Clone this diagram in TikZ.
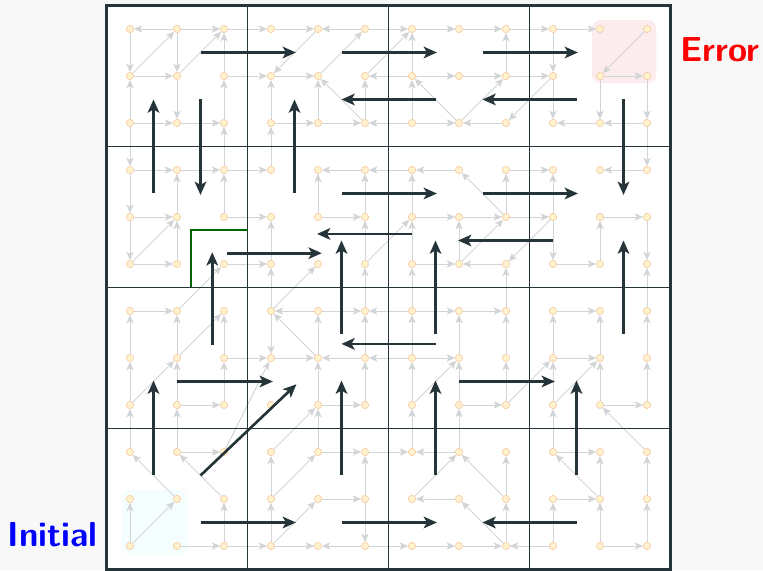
\documentclass[tikz,border=0pt]{standalone}
\usepackage{fontspec}
\usetikzlibrary{arrows.meta}
\definecolor{slate}{RGB}{37,52,56}
\definecolor{edgegray}{RGB}{210,212,214}
\definecolor{stfill}{RGB}{255,242,204}
\definecolor{stdraw}{RGB}{244,204,164}
\definecolor{errfill}{RGB}{253,236,238}
\definecolor{initfill}{RGB}{244,254,254}
\definecolor{bggray}{RGB}{248,248,248}
\definecolor{wallgreen}{RGB}{0,100,0}

\begin{document}
\begin{tikzpicture}[
  st/.style={circle, draw=stdraw, fill=stfill, line width=0.4pt, inner sep=0pt, minimum size=4.4pt},
  tr/.style={draw=edgegray, line width=0.55pt, -{Stealth[length=5pt, width=4.4pt, inset=1.2pt]}},
  cellline/.style={draw=slate, line width=1.2pt},
  move/.style={draw=slate, line width=1.6pt, -{Stealth[length=8pt, width=7pt, inset=2pt]}},
  lbl/.style={font=\sffamily\bfseries\fontsize{21}{25}\selectfont, inner sep=0pt},
]
  % canvas
  \fill[bggray] (-2.766,-0.511) rectangle (13.468,11.617);
  \fill[white] (-0.5,-0.5) rectangle (11.5,11.5);
  % initial and error sets
  \fill[initfill, rounded corners=5pt] (-0.18,-0.19) rectangle (1.23,1.19);
  \fill[errfill, rounded corners=5pt] (9.83,9.85) rectangle (11.2,11.19);

  % states
  \foreach \c in {0,...,11}
    \foreach \r in {0,...,11}
      \node[st] (n\c-\r) at (\c,11-\r) {};
  % cell centres
  \foreach \i in {0,...,3}
    \foreach \j in {0,...,3}
      \coordinate (q\i\j) at (3*\i+1,10-3*\j);

  % transitions
  \foreach \a/\b in {1-0/0-0, 1-0/2-0, 0-0/0-1, 0-1/1-0, 1-0/1-1, 1-1/2-0, 2-1/2-0,
      0-1/1-1, 0-2/0-1, 1-1/1-2, 2-2/2-1, 0-2/1-2, 1-2/2-2, 2-0/3-0, 2-1/3-1,
      0-2/0-3, 2-3/2-2, 3-3/3-2,
      3-0/4-0, 5-0/4-0, 4-0/3-1, 4-1/5-0, 3-1/4-1, 3-2/3-1, 4-2/4-1, 5-2/4-1,
      5-2/5-1, 3-2/4-2, 4-2/5-2, 5-1/6-0, 6-1/5-1, 6-2/5-2, 5-0/6-0,
      6-0/7-0, 7-0/8-0, 6-1/6-0, 6-1/7-1, 7-1/8-1, 8-1/8-0, 7-2/6-1, 7-2/8-1,
      6-2/6-1, 6-2/7-2, 8-2/7-2, 8-0/9-0, 8-1/9-1, 9-1/8-2,
      9-0/10-0, 9-0/9-1, 11-0/10-1, 10-1/11-1, 9-1/9-2, 10-1/10-2, 11-1/11-2,
      10-2/9-2, 11-2/10-2, 11-2/11-3}
    \draw[tr] (n\a) -- (n\b);
  \foreach \a/\b in {0-3/1-3, 1-3/2-3, 0-3/0-4, 0-4/0-5, 1-4/1-3, 2-4/2-3, 0-4/1-4,
      0-5/1-4, 1-5/1-4, 0-5/1-5, 2-3/3-3, 2-4/3-4, 2-5/3-5, 1-6/2-5,
      5-3/4-3, 4-4/4-3, 4-4/5-4, 5-4/5-3, 3-5/3-4, 5-5/5-4, 6-3/5-3, 3-6/3-5,
      3-6/4-5, 5-5/6-4, 5-6/5-5,
      7-3/6-3, 8-4/7-3, 6-4/6-3, 8-4/8-3, 6-4/7-4, 7-4/8-4, 7-5/7-4, 7-5/8-4,
      6-5/7-5, 8-5/7-5, 6-5/6-4, 8-3/9-3, 8-4/9-4, 9-4/8-5, 6-6/6-5, 8-6/8-5,
      11-3/10-3, 9-4/9-3, 9-4/9-5, 9-5/10-5, 10-5/10-4, 10-4/11-4, 11-4/11-5,
      11-6/11-5}
    \draw[tr] (n\a) -- (n\b);
  \foreach \a/\b in {0-7/0-6, 0-6/1-6, 1-7/1-6, 2-7/2-6, 1-7/2-6, 0-8/0-7, 0-8/1-7,
      1-8/1-7, 2-8/2-7, 1-8/2-8, 2-7/3-7, 0-9/0-8, 1-9/1-8, 2-9/3-7,
      4-6/3-6, 3-6/3-7, 4-7/3-6, 4-7/4-6, 4-6/5-6, 3-7/4-7, 5-7/4-7, 5-7/5-6,
      4-8/4-7, 5-8/5-7, 4-8/5-8, 6-6/5-6, 6-7/5-7, 3-9/4-8, 4-9/4-8,
      6-6/7-6, 7-6/8-6, 6-7/6-6, 7-7/7-6, 8-7/8-6, 6-7/7-7, 6-8/7-7, 6-8/6-7,
      7-8/7-7, 7-8/8-8, 8-8/8-7, 8-8/9-7, 6-9/6-8, 7-9/7-8,
      9-6/10-6, 9-7/9-6, 10-7/10-6, 11-7/11-6, 9-7/10-7, 9-8/10-7, 9-8/9-7,
      10-8/10-7, 10-8/11-8, 11-8/11-7, 11-9/10-8, 9-9/9-8}
    \draw[tr] (n\a) -- (n\b);
  \foreach \a/\b in {1-10/0-9, 1-9/2-9, 2-10/1-9, 0-11/0-10, 0-11/1-10, 1-11/2-11,
      2-11/2-10, 2-11/3-11,
      3-10/3-9, 3-10/4-9, 3-11/3-10, 3-11/4-10, 4-9/5-9, 4-10/5-10, 5-10/5-9,
      5-10/5-11, 3-11/4-11, 5-11/4-11, 5-9/6-9, 5-11/6-11,
      7-9/6-9, 6-10/7-9, 8-10/7-9, 8-10/8-9, 7-10/6-10, 8-11/7-10, 8-11/8-10,
      6-11/7-11, 7-11/8-11, 9-11/8-11,
      9-9/10-9, 10-10/9-9, 10-10/10-9, 9-10/10-10, 9-11/9-10, 10-11/10-10,
      10-11/11-11, 11-11/11-10, 11-10/11-9}
    \draw[tr] (n\a) -- (n\b);

  % partition
  \draw[cellline, shift={(-0.5,-0.5)}] (0,0) grid[step=3] (12,12);
  \draw[slate, line width=1.6pt] (-0.5,-0.5) rectangle (11.5,11.5);
  % wall
  \draw[wallgreen, line width=1.3pt] (1.3,5.5) |- (2.5,6.72);

  % abstract moves
  \draw[move] ([shift={(0.5,0.5)}]q00) -- ([shift={(-0.47,0.5)}]q10);
  \draw[move] ([shift={(0.5,0.5)}]q10) -- ([shift={(-0.47,0.5)}]q20);
  \draw[move] ([shift={(0.5,0.5)}]q20) -- ([shift={(-0.47,0.5)}]q30);
  \draw[move] ([shift={(-0.5,-0.5)}]q20) -- ([shift={(0.5,-0.5)}]q10);
  \draw[move] ([shift={(-0.5,-0.5)}]q30) -- ([shift={(0.5,-0.5)}]q20);
  \draw[move] ([shift={(-0.5,0.5)}]q01) -- ([shift={(-0.5,-0.5)}]q00);
  \draw[move] ([shift={(0.5,-0.5)}]q00) -- ([shift={(0.5,0.47)}]q01);
  \draw[move] ([shift={(-0.5,0.5)}]q11) -- ([shift={(-0.5,-0.5)}]q10);
  \draw[move] ([shift={(0.5,-0.5)}]q30) -- ([shift={(0.5,0.47)}]q31);
  \draw[move] ([shift={(0.5,0.5)}]q11) -- ([shift={(-0.47,0.5)}]q21);
  \draw[move] ([shift={(0.5,0.5)}]q21) -- ([shift={(-0.47,0.5)}]q31);
  \draw[move] ([shift={(-1,-0.36)}]q21) -- ([shift={(-0.02,-0.36)}]q11);
  \draw[move] ([shift={(-1,-0.5)}]q31) -- ([shift={(-0.02,-0.5)}]q21);
  \draw[move] ([shift={(1.06,-0.77)}]q01) -- ([shift={(0.08,-0.77)}]q11);
  \draw[move] ([shift={(0.75,0.28)}]q02) -- ([shift={(0.75,-0.75)}]q01);
  \draw[move] ([shift={(0.5,0.5)}]q12) -- ([shift={(0.5,-0.5)}]q11);
  \draw[move] ([shift={(-0.5,0.5)}]q22) -- ([shift={(-0.5,-0.5)}]q21);
  \draw[move] ([shift={(0.5,0.5)}]q32) -- ([shift={(0.5,-0.5)}]q31);
  \draw[move] ([shift={(-0.5,0.3)}]q22) -- ([shift={(0.5,0.3)}]q12);
  \draw[move] ([shift={(0,-0.5)}]q02) -- ([shift={(-0.96,-0.5)}]q12);
  \draw[move] ([shift={(0,-0.5)}]q22) -- ([shift={(-0.96,-0.5)}]q32);
  \draw[move] ([shift={(-0.5,0.5)}]q03) -- ([shift={(-0.5,-0.48)}]q02);
  \draw[move] ([shift={(0.5,0.5)}]q03) -- ([shift={(-0.46,-0.56)}]q12);
  \draw[move] ([shift={(0.5,0.5)}]q13) -- ([shift={(0.5,-0.48)}]q12);
  \draw[move] ([shift={(-0.5,0.5)}]q23) -- ([shift={(-0.5,-0.48)}]q22);
  \draw[move] ([shift={(-0.5,0.5)}]q33) -- ([shift={(-0.5,-0.48)}]q32);
  \draw[move] ([shift={(0.5,-0.5)}]q03) -- ([shift={(-0.47,-0.5)}]q13);
  \draw[move] ([shift={(0.5,-0.5)}]q13) -- ([shift={(-0.47,-0.5)}]q23);
  \draw[move] ([shift={(-0.5,-0.5)}]q33) -- ([shift={(0.5,-0.5)}]q23);

  % labels
  \node[lbl, text=red, anchor=base west] (errlbl) at (11.70,10.30) {Error};
  \node[lbl, text=blue, anchor=base east] (initlbl) at (-0.68,-0.02) {Initial};
\end{tikzpicture}
\end{document}
